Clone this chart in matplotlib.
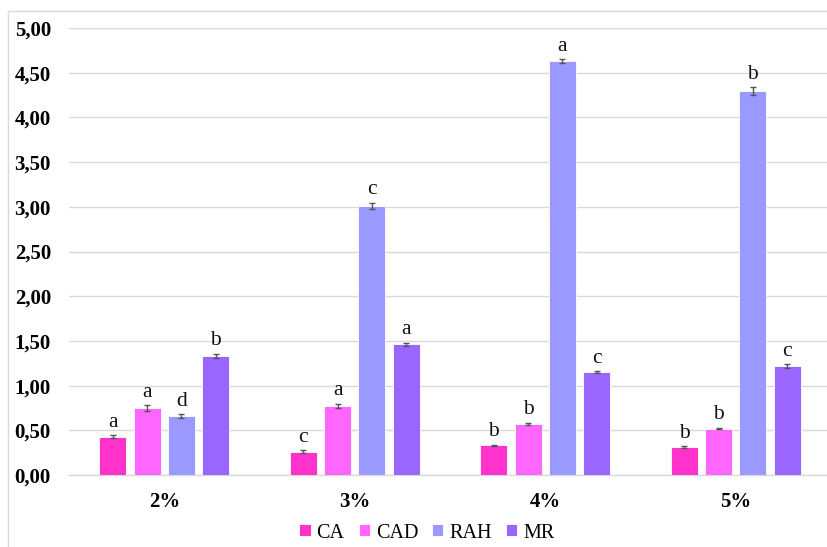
import numpy as np
import matplotlib
matplotlib.use("Agg")
import matplotlib.pyplot as plt
from matplotlib.patches import Rectangle

# Data
categories = ["2%", "3%", "4%", "5%"]
series_names = ["CA", "CAD", "RAH", "MR"]
ca_values = [0.43, 0.26, 0.33, 0.31]
cad_values = [0.75, 0.77, 0.57, 0.52]
rah_values = [0.66, 3.01, 4.63, 4.29]
mr_values = [1.33, 1.46, 1.15, 1.22]
ca_err = [0.015, 0.015, 0.01, 0.01]
cad_err = [0.03, 0.025, 0.015, 0.01]
rah_err = [0.02, 0.035, 0.02, 0.045]
mr_err = [0.025, 0.02, 0.01, 0.02]
ca_letters = ["a", "c", "b", "b"]
cad_letters = ["a", "a", "b", "b"]
rah_letters = ["d", "c", "a", "b"]
mr_letters = ["b", "a", "c", "c"]
y_ticks = [0.0, 0.5, 1.0, 1.5, 2.0, 2.5, 3.0, 3.5, 4.0, 4.5, 5.0]

values = [ca_values, cad_values, rah_values, mr_values]
errors = [ca_err, cad_err, rah_err, mr_err]
letters = [ca_letters, cad_letters, rah_letters, mr_letters]
colors = ["#FF33CC", "#FF66FF", "#9999FF", "#9966FF"]

plt.rcParams["font.family"] = ["Liberation Serif", "DejaVu Serif"]

fig = plt.figure(figsize=(8.27, 5.47), dpi=100)
fig.patches.append(Rectangle((0.010, -0.01), 1.0, 0.99, transform=fig.transFigure,
                             fill=False, edgecolor="#D9D9D9", linewidth=1.0))

ax = fig.add_axes([69 / 827, 1 - 475 / 547, (831 - 69) / 827, (475 - 28) / 547])

x = np.arange(len(categories))
step = 0.18
width = 0.142
for i, (vals, errs, lets, col, name) in enumerate(zip(values, errors, letters, colors, series_names)):
    pos = x + (i - 1.5) * step
    ax.bar(pos, vals, width=width, color=col, edgecolor="white", linewidth=0.6,
           label=name, zorder=3)
    ax.errorbar(pos, vals, yerr=errs, fmt="none", ecolor="#555555",
                elinewidth=1.0, capsize=2.5, capthick=1.0, zorder=4)
    for p, v, e, t in zip(pos, vals, errs, lets):
        ax.annotate(t, (p, v + e), xytext=(0, 2.5), textcoords="offset points",
                    ha="center", va="bottom", fontsize=15.5, color="#111111")

ax.set_xlim(-0.5, len(categories) - 0.5)
ax.set_ylim(0, 5.0)
ax.set_yticks(y_ticks)
ax.set_yticklabels([f"{t:.2f}".replace(".", ",") for t in y_ticks],
                   fontsize=15, fontweight="bold")
ax.set_xticks(x)
ax.set_xticklabels(categories, fontsize=15, fontweight="bold")
ax.tick_params(axis="y", length=0, pad=13)
ax.tick_params(axis="x", length=0, pad=12)
ax.grid(axis="y", color="#D9D9D9", linewidth=1.0, zorder=0)
ax.set_axisbelow(True)
for s in ["top", "right", "left"]:
    ax.spines[s].set_visible(False)
ax.spines["bottom"].set_color("#D9D9D9")
ax.spines["bottom"].set_linewidth(1.0)

fig.legend(loc="center", bbox_to_anchor=(427 / 827, 1 - 533 / 547), ncol=4,
           frameon=False, fontsize=14.5, handlelength=0.55, handleheight=0.55,
           handletextpad=0.3, columnspacing=0.7)

fig.savefig("out.png", dpi=100)
